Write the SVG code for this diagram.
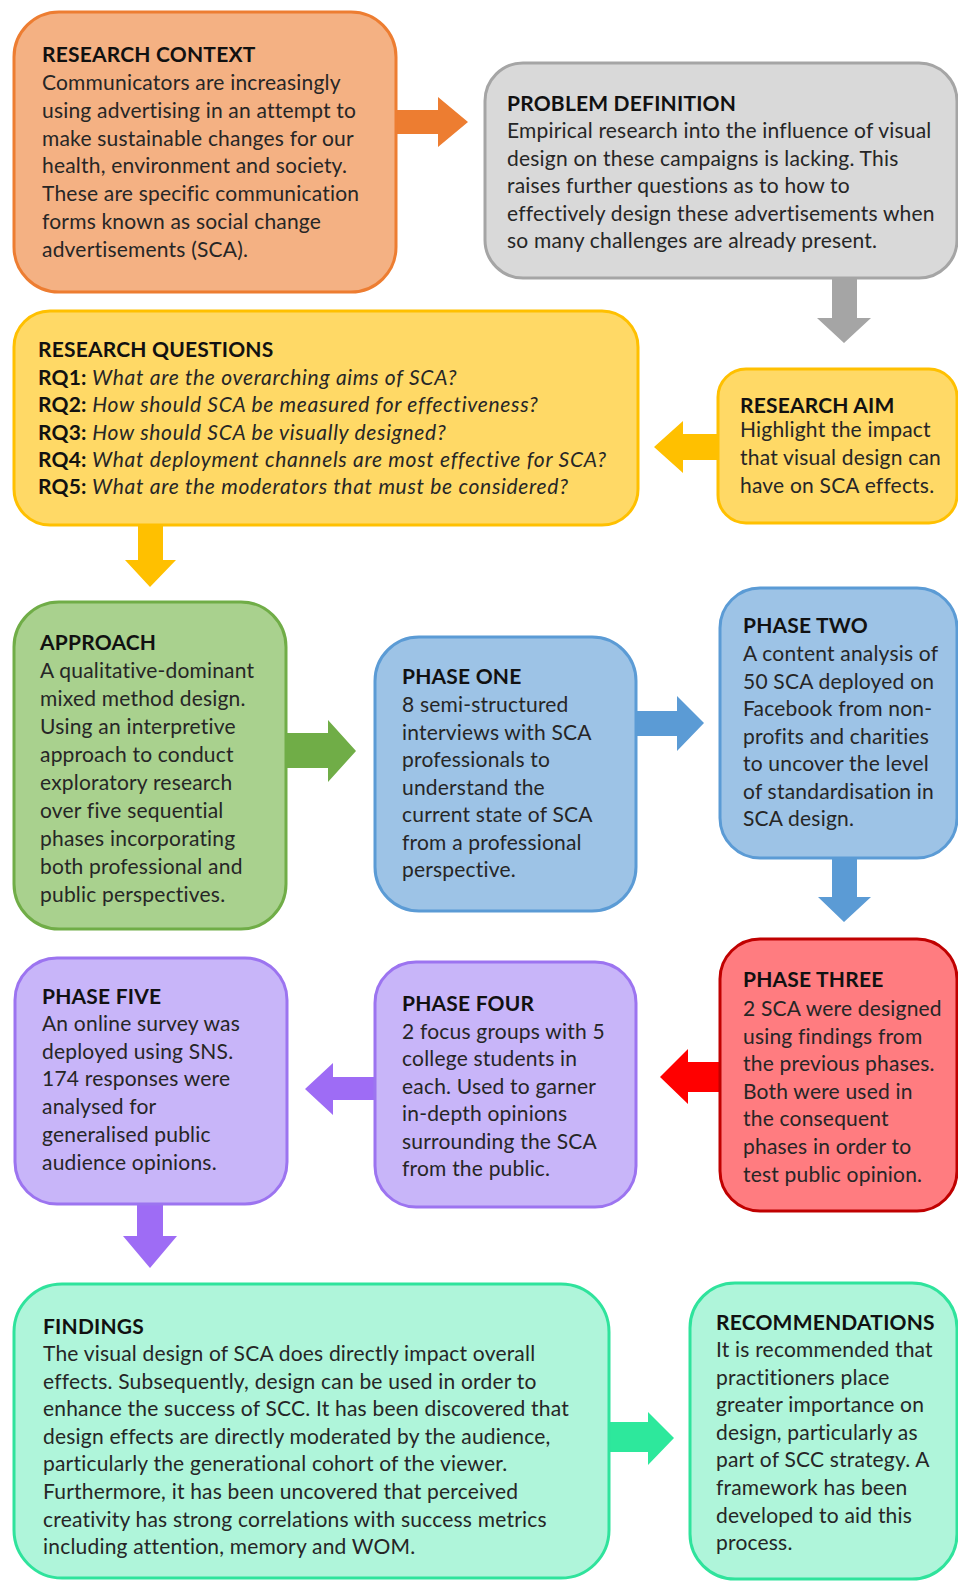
<svg xmlns="http://www.w3.org/2000/svg" width="958" height="1582" viewBox="0 0 958 1582">
<style>
.t{font-family:Lato,"Liberation Sans",sans-serif;font-size:21px;letter-spacing:0.2px;fill:#262626}
.h{font-weight:bold;fill:#111}
.i{font-style:italic;letter-spacing:0.7px}
.box{stroke-width:3}
</style>
<rect width="958" height="1582" fill="#ffffff"/>
<g id="connectors">
<polygon points="396,110 438,110 438,97 468,122 438,147 438,134 396,134" fill="#ED7D31"/>
<polygon points="832,278 857,278 857,318 871,318 844,343 817,318 832,318" fill="#A5A5A5"/>
<polygon points="718,434 683,434 683,421 654,447 683,473 683,460 718,460" fill="#FFC000"/>
<polygon points="138,525 163,525 163,560 176,560 150,587 125,560 138,560" fill="#FFC000"/>
<polygon points="286,733 328,733 328,720 356,751 328,782 328,768 286,768" fill="#70AD47"/>
<polygon points="636,711 677,711 677,696 704,723 677,751 677,736 636,736" fill="#5B9BD5"/>
<polygon points="832,858 857,858 857,897 871,897 844,922 818,897 832,897" fill="#5B9BD5"/>
<polygon points="720,1062 688,1062 688,1049 660,1077 688,1104 688,1092 720,1092" fill="#FF0000"/>
<polygon points="375,1077 333,1077 333,1063 305,1089 333,1115 333,1100 375,1100" fill="#9E6CF5"/>
<polygon points="137,1204 163,1204 163,1236 177,1236 150,1268 123,1236 137,1236" fill="#9E6CF5"/>
<polygon points="609,1422 648,1422 648,1412 674,1438 648,1465 648,1452 609,1452" fill="#2DE89C"/>
</g>
<g id="research-context">
<rect class="box" x="14" y="12" width="382" height="280" rx="45" fill="#F4B183" stroke="#ED7D31"/>
<text class="t h" x="42" y="62">RESEARCH CONTEXT</text>
<text class="t" x="42" y="90">Communicators are increasingly</text>
<text class="t" x="42" y="117.8">using advertising in an attempt to</text>
<text class="t" x="42" y="145.6">make sustainable changes for our</text>
<text class="t" x="42" y="173.4">health, environment and society.</text>
<text class="t" x="42" y="201.2">These are specific communication</text>
<text class="t" x="42" y="229">forms known as social change</text>
<text class="t" x="42" y="256.8">advertisements (SCA).</text>
</g>
<g id="problem-definition">
<rect class="box" x="485" y="63" width="472" height="215" rx="38" fill="#D9D9D9" stroke="#A5A5A5"/>
<text class="t h" x="507" y="111">PROBLEM DEFINITION</text>
<text class="t" x="507" y="138">Empirical research into the influence of visual</text>
<text class="t" x="507" y="165.5">design on these campaigns is lacking. This</text>
<text class="t" x="507" y="193">raises further questions as to how to</text>
<text class="t" x="507" y="220.5">effectively design these advertisements when</text>
<text class="t" x="507" y="248">so many challenges are already present.</text>
</g>
<g id="research-questions">
<rect class="box" x="14" y="311" width="624" height="214" rx="36" fill="#FFD966" stroke="#FFC000"/>
<text class="t h" x="38" y="357">RESEARCH QUESTIONS</text>
<text class="t" x="38" y="385"><tspan class="h">RQ1:</tspan><tspan class="i"> What are the overarching aims of SCA?</tspan></text>
<text class="t" x="38" y="412.3"><tspan class="h">RQ2:</tspan><tspan class="i"> How should SCA be measured for effectiveness?</tspan></text>
<text class="t" x="38" y="439.6"><tspan class="h">RQ3:</tspan><tspan class="i"> How should SCA be visually designed?</tspan></text>
<text class="t" x="38" y="466.9"><tspan class="h">RQ4:</tspan><tspan class="i"> What deployment channels are most effective for SCA?</tspan></text>
<text class="t" x="38" y="494.2"><tspan class="h">RQ5:</tspan><tspan class="i"> What are the moderators that must be considered?</tspan></text>
</g>
<g id="research-aim">
<rect class="box" x="718" y="369" width="239" height="154" rx="28" fill="#FFD966" stroke="#FFC000"/>
<text class="t h" x="740" y="413">RESEARCH AIM</text>
<text class="t" x="740" y="437">Highlight the impact</text>
<text class="t" x="740" y="465">that visual design can</text>
<text class="t" x="740" y="493">have on SCA effects.</text>
</g>
<g id="approach">
<rect class="box" x="14" y="602" width="272" height="327" rx="45" fill="#A9D18E" stroke="#70AD47"/>
<text class="t h" x="40" y="650">APPROACH</text>
<text class="t" x="40" y="678">A qualitative-dominant</text>
<text class="t" x="40" y="706">mixed method design.</text>
<text class="t" x="40" y="734">Using an interpretive</text>
<text class="t" x="40" y="762">approach to conduct</text>
<text class="t" x="40" y="790">exploratory research</text>
<text class="t" x="40" y="818">over five sequential</text>
<text class="t" x="40" y="846">phases incorporating</text>
<text class="t" x="40" y="874">both professional and</text>
<text class="t" x="40" y="902">public perspectives.</text>
</g>
<g id="phase-one">
<rect class="box" x="375" y="637" width="261" height="274" rx="44" fill="#9DC3E6" stroke="#5B9BD5"/>
<text class="t h" x="402" y="684">PHASE ONE</text>
<text class="t" x="402" y="712">8 semi-structured</text>
<text class="t" x="402" y="739.5">interviews with SCA</text>
<text class="t" x="402" y="767">professionals to</text>
<text class="t" x="402" y="794.5">understand the</text>
<text class="t" x="402" y="822">current state of SCA</text>
<text class="t" x="402" y="849.5">from a  professional</text>
<text class="t" x="402" y="877">perspective.</text>
</g>
<g id="phase-two">
<rect class="box" x="720" y="588" width="237" height="270" rx="40" fill="#9DC3E6" stroke="#5B9BD5"/>
<text class="t h" x="743" y="633">PHASE TWO</text>
<text class="t" x="743" y="661">A content analysis of</text>
<text class="t" x="743" y="688.5">50 SCA deployed on</text>
<text class="t" x="743" y="716">Facebook from non-</text>
<text class="t" x="743" y="743.5">profits and charities</text>
<text class="t" x="743" y="771">to uncover the level</text>
<text class="t" x="743" y="798.5">of standardisation in</text>
<text class="t" x="743" y="826">SCA design.</text>
</g>
<g id="phase-three">
<rect class="box" x="720" y="939" width="237" height="272" rx="40" fill="#FF7C80" stroke="#C00000"/>
<text class="t h" x="743" y="987">PHASE THREE</text>
<text class="t" x="743" y="1016">2 SCA were designed</text>
<text class="t" x="743" y="1043.6">using findings from</text>
<text class="t" x="743" y="1071.2">the previous phases.</text>
<text class="t" x="743" y="1098.8">Both were used in</text>
<text class="t" x="743" y="1126.4">the consequent</text>
<text class="t" x="743" y="1154">phases in order to</text>
<text class="t" x="743" y="1181.6">test public opinion.</text>
</g>
<g id="phase-four">
<rect class="box" x="375" y="962" width="261" height="245" rx="41" fill="#C8B5F9" stroke="#9C74F0"/>
<text class="t h" x="402" y="1011">PHASE FOUR</text>
<text class="t" x="402" y="1039">2 focus groups with 5</text>
<text class="t" x="402" y="1066.4">college students in</text>
<text class="t" x="402" y="1093.8">each. Used to garner</text>
<text class="t" x="402" y="1121.2">in-depth opinions</text>
<text class="t" x="402" y="1148.6">surrounding the SCA</text>
<text class="t" x="402" y="1176">from the public.</text>
</g>
<g id="phase-five">
<rect class="box" x="15" y="958" width="272" height="246" rx="42" fill="#C8B5F9" stroke="#9C74F0"/>
<text class="t h" x="42" y="1004">PHASE FIVE</text>
<text class="t" x="42" y="1031">An online survey was</text>
<text class="t" x="42" y="1058.7">deployed using SNS.</text>
<text class="t" x="42" y="1086.4">174  responses were</text>
<text class="t" x="42" y="1114.1">analysed for</text>
<text class="t" x="42" y="1141.8">generalised public</text>
<text class="t" x="42" y="1169.5">audience opinions.</text>
</g>
<g id="findings">
<rect class="box" x="14" y="1284" width="595" height="294" rx="48" fill="#AFF5DA" stroke="#2FE39C"/>
<text class="t h" x="43" y="1334">FINDINGS</text>
<text class="t" x="43" y="1361">The visual design of SCA does directly impact overall</text>
<text class="t" x="43" y="1388.6">effects. Subsequently, design can be used in order to</text>
<text class="t" x="43" y="1416.2">enhance the success of SCC. It has been discovered that</text>
<text class="t" x="43" y="1443.8">design effects are directly moderated by the audience,</text>
<text class="t" x="43" y="1471.4">particularly the generational cohort of the viewer.</text>
<text class="t" x="43" y="1499">Furthermore, it has been uncovered that perceived</text>
<text class="t" x="43" y="1526.6">creativity has strong correlations with success metrics</text>
<text class="t" x="43" y="1554.2">including attention, memory and WOM.</text>
</g>
<g id="recommendations">
<rect class="box" x="690" y="1283" width="267" height="296" rx="45" fill="#AFF5DA" stroke="#2FE39C"/>
<text class="t h" x="716" y="1330">RECOMMENDATIONS</text>
<text class="t" x="716" y="1357">It is recommended that</text>
<text class="t" x="716" y="1384.6">practitioners place</text>
<text class="t" x="716" y="1412.2">greater importance on</text>
<text class="t" x="716" y="1439.8">design, particularly as</text>
<text class="t" x="716" y="1467.4">part of SCC strategy. A</text>
<text class="t" x="716" y="1495">framework has been</text>
<text class="t" x="716" y="1522.6">developed to aid this</text>
<text class="t" x="716" y="1550.2">process.</text>
</g>
</svg>
